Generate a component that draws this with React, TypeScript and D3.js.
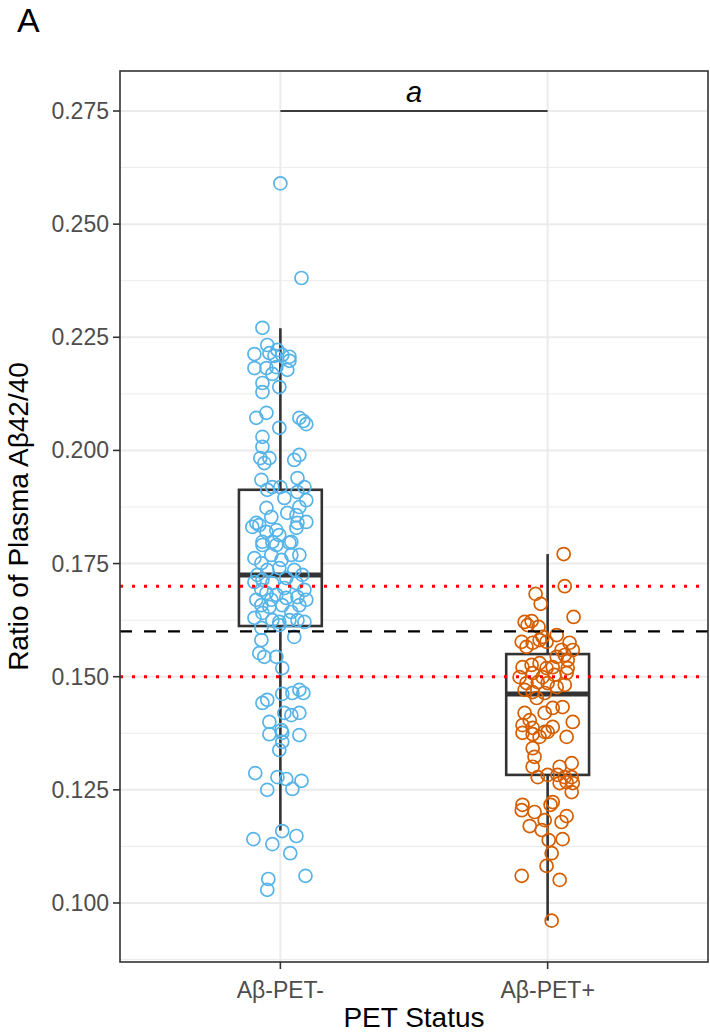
import React from "react";
import * as d3 from "d3";

const categories = ["Aβ-PET-", "Aβ-PET+"];

// [jitter (category units), ratio]
const negPoints: [number, number][] = [
  [0.000, 0.2590], [0.079, 0.2381], [-0.067, 0.2271], [-0.049, 0.2233], [-0.097, 0.2213],
  [-0.011, 0.2222], [-0.022, 0.2209], [0.034, 0.2207], [-0.041, 0.2215], [0.007, 0.2211],
  [0.034, 0.2198], [-0.097, 0.2182], [-0.052, 0.2182], [-0.015, 0.2184], [0.026, 0.2178],
  [-0.030, 0.2169], [-0.067, 0.2149], [-0.067, 0.2129], [-0.004, 0.2140], [-0.090, 0.2072],
  [-0.052, 0.2083], [-0.004, 0.2050], [0.071, 0.2072], [0.086, 0.2065], [0.097, 0.2058],
  [-0.067, 0.2030], [-0.067, 0.2008], [-0.075, 0.1983], [-0.060, 0.1972], [-0.041, 0.1983],
  [0.052, 0.1979], [0.071, 0.1990], [-0.071, 0.1935], [-0.049, 0.1913], [-0.030, 0.1919],
  [0.000, 0.1919], [0.064, 0.1939], [0.090, 0.1919], [0.064, 0.1908], [0.097, 0.1890],
  [-0.090, 0.1840], [-0.105, 0.1831], [-0.079, 0.1835], [-0.034, 0.1853], [0.026, 0.1862],
  [0.060, 0.1857], [0.064, 0.1840], [0.097, 0.1842], [-0.052, 0.1820], [-0.015, 0.1824],
  [-0.004, 0.1813], [0.060, 0.1829], [-0.067, 0.1798], [-0.030, 0.1798], [0.041, 0.1798],
  [-0.067, 0.1791], [-0.015, 0.1791], [0.034, 0.1796], [-0.097, 0.1762], [-0.071, 0.1751],
  [-0.034, 0.1769], [0.004, 0.1758], [0.041, 0.1769], [0.071, 0.1769], [-0.004, 0.1740],
  [-0.097, 0.1709], [-0.067, 0.1714], [-0.030, 0.1707], [0.022, 0.1718], [0.060, 0.1707],
  [0.090, 0.1692], [-0.052, 0.1685], [-0.015, 0.1681], [0.022, 0.1674], [0.064, 0.1676],
  [0.097, 0.1670], [-0.071, 0.1658], [-0.041, 0.1654], [0.007, 0.1658], [0.071, 0.1658],
  [-0.097, 0.1630], [-0.067, 0.1641], [-0.030, 0.1625], [-0.004, 0.1621], [0.034, 0.1625],
  [0.064, 0.1625], [0.090, 0.1621], [-0.071, 0.1608], [-0.004, 0.1614], [-0.086, 0.1725],
  [-0.049, 0.1736], [0.052, 0.1736], [0.082, 0.1725], [0.015, 0.1696], [-0.071, 0.1692],
  [-0.034, 0.1670], [0.041, 0.1643], [-0.090, 0.1670], [-0.052, 0.1873], [0.071, 0.1875],
  [0.015, 0.1895], [-0.071, 0.1581], [-0.079, 0.1552], [-0.060, 0.1544], [-0.015, 0.1544],
  [0.007, 0.1519], [0.052, 0.1588], [0.071, 0.1471], [0.086, 0.1464], [0.045, 0.1464],
  [0.007, 0.1462], [-0.067, 0.1442], [-0.049, 0.1449], [0.015, 0.1420], [0.041, 0.1415],
  [0.071, 0.1420], [-0.041, 0.1400], [0.004, 0.1382], [-0.041, 0.1373], [0.071, 0.1371],
  [0.007, 0.1356], [-0.004, 0.1338], [-0.094, 0.1287], [-0.011, 0.1278], [0.022, 0.1274],
  [0.079, 0.1270], [-0.049, 0.1250], [0.045, 0.1252], [0.007, 0.1159], [0.060, 0.1148],
  [-0.101, 0.1141], [-0.030, 0.1130], [0.037, 0.1110], [0.094, 0.1060], [-0.045, 0.1053],
  [-0.049, 0.1029], [0.007, 0.1376],
];

const posPoints: [number, number][] = [
  [0.060, 0.1771], [0.064, 0.1700], [-0.045, 0.1683], [-0.026, 0.1661], [0.097, 0.1632],
  [-0.086, 0.1621], [-0.060, 0.1623], [-0.034, 0.1610], [-0.075, 0.1614], [0.034, 0.1592],
  [-0.019, 0.1588], [-0.097, 0.1577], [-0.079, 0.1566], [-0.056, 0.1575], [-0.030, 0.1581],
  [-0.004, 0.1577], [0.082, 0.1575], [0.094, 0.1559], [0.052, 0.1559], [0.064, 0.1548],
  [0.034, 0.1544], [0.075, 0.1537], [-0.094, 0.1521], [-0.060, 0.1526], [-0.030, 0.1530],
  [-0.004, 0.1519], [0.019, 0.1521], [0.075, 0.1519], [-0.105, 0.1499], [-0.056, 0.1508],
  [-0.019, 0.1499], [0.026, 0.1504], [0.071, 0.1508], [-0.079, 0.1486], [-0.037, 0.1488],
  [0.000, 0.1486], [0.034, 0.1477], [0.064, 0.1482], [-0.086, 0.1471], [-0.056, 0.1466],
  [-0.011, 0.1464], [-0.041, 0.1453], [-0.086, 0.1420], [-0.067, 0.1404], [-0.011, 0.1420],
  [0.019, 0.1431], [0.056, 0.1433], [0.094, 0.1400], [-0.094, 0.1393], [-0.056, 0.1387],
  [-0.011, 0.1378], [0.019, 0.1389], [0.071, 0.1367], [-0.094, 0.1376], [-0.056, 0.1373],
  [-0.030, 0.1367], [0.000, 0.1378], [-0.056, 0.1342], [-0.049, 0.1323], [-0.056, 0.1301],
  [-0.037, 0.1278], [0.000, 0.1283], [0.045, 0.1301], [0.090, 0.1309], [0.037, 0.1283],
  [0.064, 0.1278], [0.090, 0.1278], [0.071, 0.1267], [0.045, 0.1265], [0.094, 0.1265],
  [0.090, 0.1245], [0.019, 0.1223], [0.011, 0.1217], [-0.094, 0.1217], [-0.097, 0.1205],
  [-0.049, 0.1201], [0.071, 0.1192], [0.052, 0.1179], [-0.011, 0.1183], [-0.067, 0.1170],
  [-0.022, 0.1161], [0.056, 0.1141], [0.004, 0.1139], [0.015, 0.1110], [-0.004, 0.1082],
  [-0.097, 0.1060], [0.045, 0.1051], [0.015, 0.0961],
];

// boxplot statistics per category
const boxLower = [0.1160, 0.0961];
const boxQ1 = [0.1612, 0.1283];
const boxMedian = [0.1725, 0.1462];
const boxQ3 = [0.1913, 0.1550];
const boxUpper = [0.2270, 0.1771];

const yTicks = [0.1, 0.125, 0.15, 0.175, 0.2, 0.225, 0.25, 0.275];
const yMinor = [0.0875, 0.1125, 0.1375, 0.1625, 0.1875, 0.2125, 0.2375, 0.2625];
const cutoffLine = 0.16;
const grayZone = [0.15, 0.17];
const bracketY = 0.275;
const bracketLabel = "a";

const colors = ["#56B4E9", "#D55E00"];

export default function App() {
  const W = 710, H = 1035;
  const left = 120, right = 708, top = 71, bottom = 962;
  const font = "'Liberation Sans', Arial, Helvetica, sans-serif";

  const x = d3.scalePoint<string>().domain(categories).range([left, right]).padding(0.6);
  const step = x.step();
  const y = d3.scaleLinear().domain([0.08696, 0.28384]).range([bottom, top]);
  const boxW = 0.31 * step;
  const groups = [negPoints, posPoints];

  return (
    <svg width={W} height={H} style={{ position: "absolute", left: 0, top: 0, background: "#fff" }}
      fontFamily={font}>
      <rect x={0} y={0} width={W} height={H} fill="#fff" />
      {/* grid */}
      {yMinor.filter(v => y(v) > top && y(v) < bottom).map(v => (
        <line key={"mn" + v} x1={left} x2={right} y1={y(v)} y2={y(v)} stroke="#EBEBEB" strokeWidth={1} />
      ))}
      {yTicks.map(v => (
        <line key={"mj" + v} x1={left} x2={right} y1={y(v)} y2={y(v)} stroke="#EBEBEB" strokeWidth={2} />
      ))}
      {categories.map(c => (
        <line key={"vx" + c} x1={x(c)} x2={x(c)} y1={top} y2={bottom} stroke="#EBEBEB" strokeWidth={2} />
      ))}
      {/* boxplots */}
      {categories.map((c, i) => {
        const cx = x(c) as number;
        return (
          <g key={"box" + c} stroke="#333333">
            <line x1={cx} x2={cx} y1={y(boxUpper[i])} y2={y(boxQ3[i])} strokeWidth={2.6} />
            <line x1={cx} x2={cx} y1={y(boxQ1[i])} y2={y(boxLower[i])} strokeWidth={2.6} />
            <rect x={cx - boxW / 2} y={y(boxQ3[i])} width={boxW} height={y(boxQ1[i]) - y(boxQ3[i])}
              fill="#fff" strokeWidth={2.6} />
            <line x1={cx - boxW / 2} x2={cx + boxW / 2} y1={y(boxMedian[i])} y2={y(boxMedian[i])} strokeWidth={5} />
          </g>
        );
      })}
      {/* points */}
      {groups.map((pts, i) => (
        <g key={"pts" + i} fill="none" stroke={colors[i]} strokeWidth={1.7}>
          {pts.map((p, k) => (
            <circle key={k} cx={(x(categories[i]) as number) + p[0] * step} cy={y(p[1])} r={6.5} />
          ))}
        </g>
      ))}
      {/* reference lines */}
      {grayZone.map(v => (
        <line key={"rz" + v} x1={left} x2={right} y1={y(v)} y2={y(v)} stroke="#FF0000" strokeWidth={3}
          strokeDasharray="3 9" />
      ))}
      <line x1={left} x2={right} y1={y(cutoffLine)} y2={y(cutoffLine)} stroke="#000" strokeWidth={2.2}
        strokeDasharray="12 12" />
      {/* bracket */}
      <line x1={x(categories[0])} x2={x(categories[1])} y1={y(bracketY)} y2={y(bracketY)} stroke="#000" strokeWidth={1.6} />
      <text x={((x(categories[0]) as number) + (x(categories[1]) as number)) / 2} y={y(bracketY) - 9}
        textAnchor="middle" fontStyle="italic" fontSize={29} fill="#000">{bracketLabel}</text>
      {/* panel border */}
      <rect x={left} y={top} width={right - left} height={bottom - top} fill="none" stroke="#333333" strokeWidth={1.6} />
      {/* y axis */}
      {yTicks.map(v => (
        <g key={"yt" + v}>
          <line x1={left - 7} x2={left} y1={y(v)} y2={y(v)} stroke="#333333" strokeWidth={1.6} />
          <text x={left - 11} y={y(v)} dy="0.35em" textAnchor="end" fontSize={23} fill="#4D4D4D">
            {d3.format(".3f")(v)}
          </text>
        </g>
      ))}
      {/* x axis */}
      {categories.map(c => (
        <g key={"xt" + c}>
          <line x1={x(c)} x2={x(c)} y1={bottom} y2={bottom + 7} stroke="#333333" strokeWidth={1.6} />
          <text x={x(c)} y={bottom + 36} textAnchor="middle" fontSize={23} fill="#4D4D4D">{c}</text>
        </g>
      ))}
      <text x={(left + right) / 2} y={1027} textAnchor="middle" fontSize={28} fill="#000">PET Status</text>
      <text transform={`translate(28, ${(top + bottom) / 2}) rotate(-90)`} textAnchor="middle" fontSize={28} fill="#000">
        Ratio of Plasma Aβ42/40
      </text>
      <text x={17} y={32} fontSize={34} fill="#000">A</text>
    </svg>
  );
}
